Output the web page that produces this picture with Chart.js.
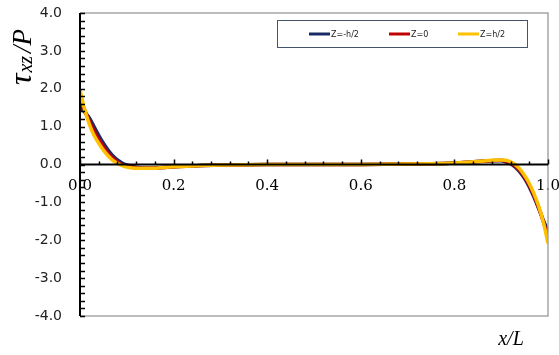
<!DOCTYPE html>
<html>
<head>
<meta charset="utf-8">
<script src="https://cdn.jsdelivr.net/npm/chart.js@4/dist/chart.umd.min.js"></script>
<style>
  html, body { margin: 0; padding: 0; background: #ffffff; }
  #wrap { width: 559px; height: 355px; position: relative; }
</style>
</head>
<body>
<div id="wrap"><canvas id="chart"></canvas></div>
<script>
// Positions along the member (x/L)
const xPositions = [0, 0.005, 0.01, 0.02, 0.03, 0.04, 0.05, 0.06, 0.07, 0.08, 0.09, 0.1, 0.12, 0.15, 0.2, 0.25, 0.3, 0.4, 0.5, 0.6, 0.7, 0.75, 0.8, 0.85, 0.88, 0.9, 0.91, 0.92, 0.93, 0.94, 0.95, 0.96, 0.97, 0.98, 0.99, 1.0];

// Normalised transverse shear stress tau_xz / P at three depths
const seriesBottom = [1.50, 1.45, 1.38, 1.23, 1.00, 0.77, 0.56, 0.38, 0.23, 0.12, 0.04, -0.01, -0.07, -0.09, -0.06, -0.03, -0.015, 0, 0, 0, 0.01, 0.02, 0.04, 0.08, 0.10, 0.10, 0.07, 0.02, -0.07, -0.20, -0.37, -0.59, -0.86, -1.16, -1.47, -1.76];
const seriesMid    = [1.75, 1.58, 1.43, 1.14, 0.88, 0.66, 0.47, 0.30, 0.17, 0.07, 0.00, -0.04, -0.09, -0.10, -0.06, -0.03, -0.015, 0, 0, 0, 0.01, 0.02, 0.04, 0.08, 0.10, 0.11, 0.09, 0.04, -0.04, -0.16, -0.33, -0.55, -0.82, -1.14, -1.51, -1.93];
const seriesTop    = [1.98, 1.70, 1.45, 1.06, 0.77, 0.56, 0.38, 0.23, 0.11, 0.03, -0.03, -0.07, -0.10, -0.10, -0.06, -0.03, -0.015, 0, 0, 0, 0.01, 0.02, 0.04, 0.08, 0.11, 0.12, 0.11, 0.07, 0.00, -0.12, -0.29, -0.50, -0.77, -1.10, -1.52, -2.08];

const seriesNames = ['Z=-h/2', 'Z=0', 'Z=h/2'];
const seriesColors = ['#1b2a66', '#c00000', '#ffc000'];

// Axis ticks
const yTickValues = [-4, -3, -2, -1, 0, 1, 2, 3, 4];
const xTickValues = [0, 0.2, 0.4, 0.6, 0.8, 1.0];

const toPoints = (ys) => xPositions.map((x, i) => ({ x: x, y: ys[i] }));

// Frame, inward tick marks, axis titles and legend box
const decorations = {
  id: 'decorations',
  afterDraw(chart) {
    const { ctx, chartArea: a, scales } = chart;
    const xs = scales.x, ys = scales.y;
    const y0 = ys.getPixelForValue(0);
    ctx.save();
    // light frame on top, right and bottom
    ctx.strokeStyle = '#a6a6a6';
    ctx.lineWidth = 1.5;
    ctx.beginPath();
    ctx.moveTo(a.left, a.top); ctx.lineTo(a.right, a.top);
    ctx.lineTo(a.right, a.bottom); ctx.lineTo(a.left, a.bottom);
    ctx.stroke();
    // y axis line
    ctx.strokeStyle = '#000';
    ctx.lineWidth = 2;
    ctx.beginPath();
    ctx.moveTo(a.left, a.top); ctx.lineTo(a.left, a.bottom);
    ctx.stroke();
    // y minor/major ticks (inward)
    ctx.lineWidth = 1.5;
    ctx.beginPath();
    for (let k = -20; k <= 20; k++) {
      const py = Math.round(ys.getPixelForValue(k * 0.2)) + 0.5;
      ctx.moveTo(a.left, py); ctx.lineTo(a.left + 5, py);
    }
    ctx.stroke();
    // x axis line through zero
    ctx.lineWidth = 2;
    ctx.beginPath();
    ctx.moveTo(a.left, y0); ctx.lineTo(a.right, y0);
    ctx.stroke();
    // x ticks pointing up
    ctx.lineWidth = 1.5;
    ctx.beginPath();
    for (let k = 0; k <= 25; k++) {
      const v = k * 0.04;
      const px = Math.round(xs.getPixelForValue(v)) + 0.5;
      const len = (k % 5 === 0) ? 5 : 3;
      ctx.moveTo(px, y0); ctx.lineTo(px, y0 - len);
    }
    ctx.stroke();

    // y axis title: tau_xz / P (rotated)
    ctx.save();
    ctx.translate(31, 85);
    ctx.rotate(-Math.PI / 2);
    ctx.fillStyle = '#000';
    ctx.textBaseline = 'alphabetic';
    ctx.textAlign = 'left';
    let cx = 0;
    ctx.font = 'italic 32px "Liberation Serif"';
    ctx.fillText('τ', cx, 0); cx += ctx.measureText('τ').width + 1;
    ctx.font = 'italic 20px "Liberation Serif"';
    ctx.fillText('xz', cx, 1); cx += ctx.measureText('xz').width + 3;
    ctx.font = 'italic 27px "Liberation Serif"';
    ctx.fillText('/P', cx, 0);
    ctx.restore();

    // x axis title
    ctx.fillStyle = '#000';
    ctx.font = 'italic 20px "Liberation Serif"';
    ctx.textAlign = 'center';
    ctx.textBaseline = 'alphabetic';
    ctx.fillText('x/L', 511, 345);

    // legend box
    ctx.strokeStyle = '#44546a';
    ctx.lineWidth = 1;
    ctx.strokeRect(277.5, 20.5, 250, 27);
    const items = [309, 389, 458];
    ctx.font = '8px "DejaVu Sans"';
    ctx.textAlign = 'left';
    ctx.textBaseline = 'middle';
    chart.data.datasets.forEach((ds, i) => {
      const lx = items[i];
      ctx.strokeStyle = ds.borderColor;
      ctx.lineWidth = 3;
      ctx.beginPath();
      ctx.moveTo(lx, 34); ctx.lineTo(lx + 21, 34);
      ctx.stroke();
      ctx.fillStyle = '#222';
      ctx.fillText(ds.label, lx + 22, 34.5);
    });
    ctx.restore();
  }
};

new Chart(document.getElementById('chart'), {
  type: 'line',
  data: {
    datasets: [
      { label: seriesNames[0], data: toPoints(seriesBottom), borderColor: seriesColors[0], order: 3 },
      { label: seriesNames[1], data: toPoints(seriesMid), borderColor: seriesColors[1], order: 2 },
      { label: seriesNames[2], data: toPoints(seriesTop), borderColor: seriesColors[2], order: 1 }
    ]
  },
  options: {
    responsive: true,
    maintainAspectRatio: false,
    animation: false,
    layout: { padding: { top: 13, right: 11, bottom: 39, left: 0 } },
    elements: {
      point: { radius: 0 },
      line: { borderWidth: 3.5, cubicInterpolationMode: 'monotone', fill: false }
    },
    plugins: { legend: { display: false }, tooltip: { enabled: false } },
    scales: {
      x: {
        type: 'linear',
        position: { y: 0 },
        min: 0, max: 1,
        afterBuildTicks: (s) => { s.ticks = xTickValues.map(v => ({ value: v })); },
        afterFit: (s) => { s.paddingLeft = 0; s.paddingRight = 0; s.height = 0; },
        grid: { display: false, drawTicks: false },
        border: { display: false },
        ticks: {
          autoSkip: false, maxRotation: 0, padding: 13,
          color: '#000',
          font: { family: '"DejaVu Serif"', size: 15 },
          callback: (v) => Number(v).toFixed(1)
        }
      },
      y: {
        type: 'linear',
        min: -4, max: 4,
        afterBuildTicks: (s) => { s.ticks = yTickValues.map(v => ({ value: v })); },
        afterFit: (s) => { s.width = 80; s.paddingTop = 0; s.paddingBottom = 0; },
        grid: { display: false, drawTicks: false },
        border: { display: false },
        ticks: {
          padding: 18,
          color: '#222',
          font: { family: '"DejaVu Sans"', size: 14 },
          callback: (v) => Number(v).toFixed(1)
        }
      }
    }
  },
  plugins: [decorations]
});
</script>
</body>
</html>
